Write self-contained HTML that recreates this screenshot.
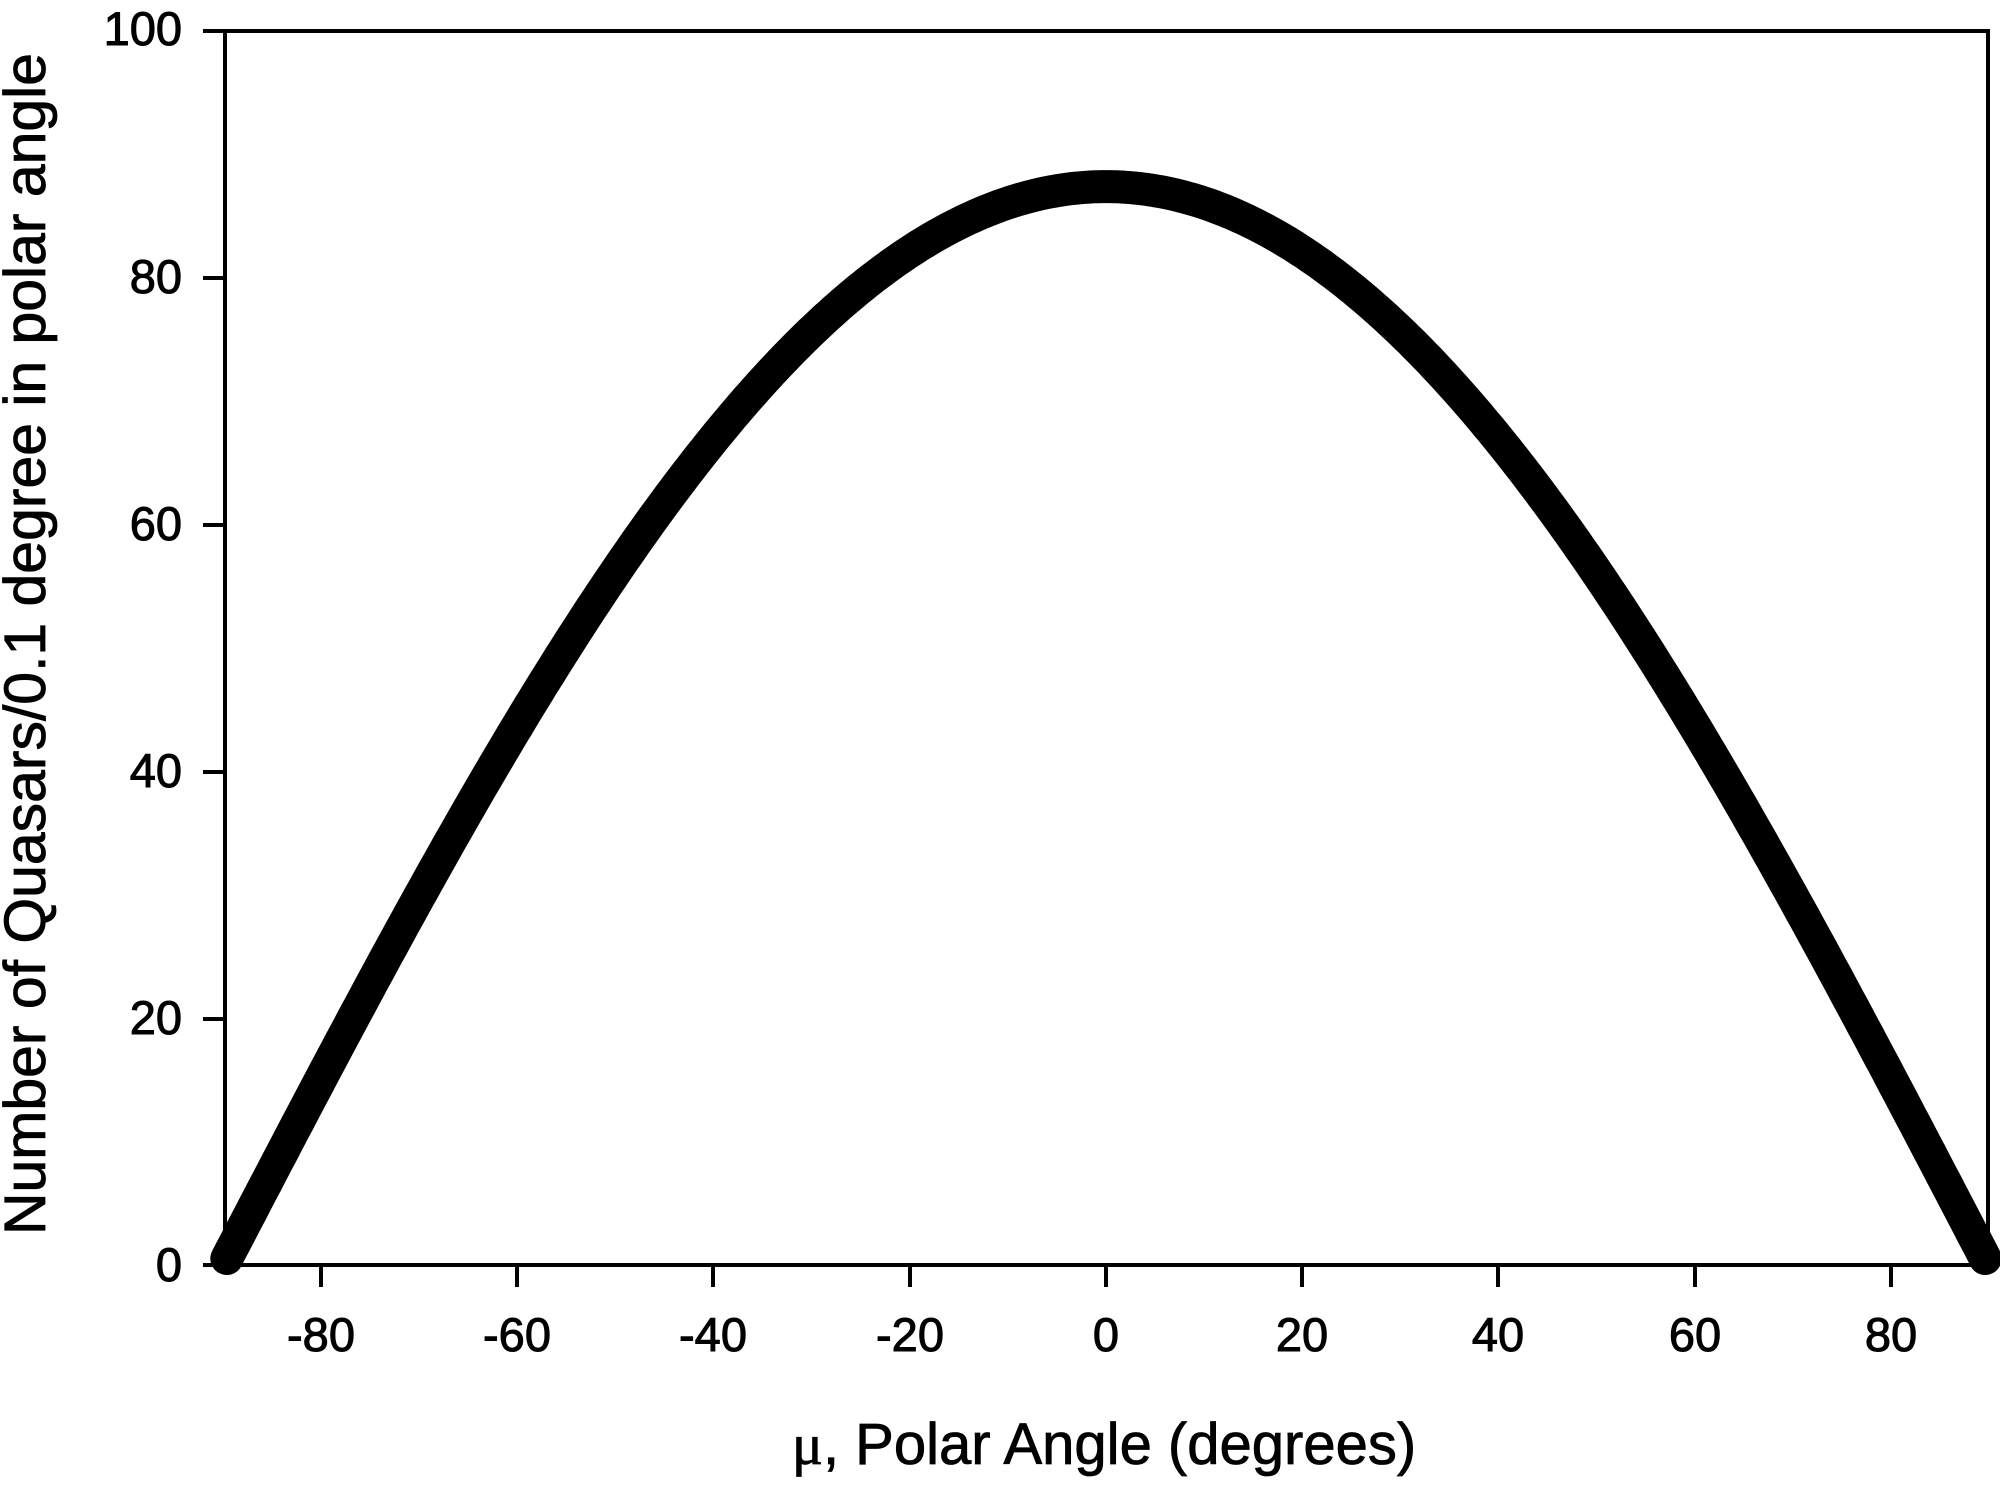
<!DOCTYPE html>
<html>
<head>
<meta charset="utf-8">
<style>
html,body{margin:0;padding:0;background:#fff;}
svg{display:block;}
text{font-family:"Liberation Sans",Arial,sans-serif;fill:#000;}
</style>
</head>
<body>
<svg width="2000" height="1490" viewBox="0 0 2000 1490" xmlns="http://www.w3.org/2000/svg">
<rect width="2000" height="1490" fill="#fff"/>
<!-- frame -->
<rect x="225" y="31" width="1763" height="1234" fill="none" stroke="#000" stroke-width="4"/>
<!-- ticks -->
<g stroke="#000" stroke-width="4">
<line x1="203" y1="31" x2="225" y2="31"/>
<line x1="203" y1="278" x2="225" y2="278"/>
<line x1="203" y1="525" x2="225" y2="525"/>
<line x1="203" y1="772" x2="225" y2="772"/>
<line x1="203" y1="1019" x2="225" y2="1019"/>
<line x1="203" y1="1265" x2="225" y2="1265"/>
<line x1="321" y1="1265" x2="321" y2="1287"/>
<line x1="517" y1="1265" x2="517" y2="1287"/>
<line x1="713" y1="1265" x2="713" y2="1287"/>
<line x1="910" y1="1265" x2="910" y2="1287"/>
<line x1="1106" y1="1265" x2="1106" y2="1287"/>
<line x1="1302" y1="1265" x2="1302" y2="1287"/>
<line x1="1498" y1="1265" x2="1498" y2="1287"/>
<line x1="1695" y1="1265" x2="1695" y2="1287"/>
<line x1="1891" y1="1265" x2="1891" y2="1287"/>
</g>
<!-- y labels -->
<g font-size="47" text-anchor="end" stroke="#000" stroke-width="1">
<text x="182" y="45">100</text>
<text x="182" y="293">80</text>
<text x="182" y="540">60</text>
<text x="182" y="787">40</text>
<text x="182" y="1034">20</text>
<text x="182" y="1281">0</text>
</g>
<!-- x labels -->
<g font-size="47" text-anchor="middle" stroke="#000" stroke-width="1">
<text x="321" y="1351">-80</text>
<text x="517" y="1351">-60</text>
<text x="713" y="1351">-40</text>
<text x="910" y="1351">-20</text>
<text x="1106" y="1351">0</text>
<text x="1302" y="1351">20</text>
<text x="1498" y="1351">40</text>
<text x="1695" y="1351">60</text>
<text x="1891" y="1351">80</text>
</g>
<!-- titles -->
<text x="1104" y="1464" font-size="58" text-anchor="middle" stroke="#000" stroke-width="0.8"><tspan font-family="Liberation Serif, serif">μ</tspan>, Polar Angle (degrees)</text>
<text transform="translate(45,1235) rotate(-90)" x="0" y="0" font-size="58" textLength="1182" lengthAdjust="spacingAndGlyphs" stroke="#000" stroke-width="0.8">Number of Quasars/0.1 degree in polar angle</text>
<!-- curve -->
<polyline id="curve" fill="none" stroke="#000" stroke-width="33" stroke-linecap="round" stroke-linejoin="round" points=""/>
<script>
(function(){
  var pts=[];
  for(var m=-89.6;m<=89.6001;m+=0.4){
    var v=87.4*Math.cos(m*Math.PI/180);
    var x=1106+m*9.8125;
    var y=1266-v*12.35;
    pts.push(x.toFixed(1)+","+y.toFixed(1));
  }
  document.getElementById("curve").setAttribute("points",pts.join(" "));
})();
</script>
</svg>
</body>
</html>
